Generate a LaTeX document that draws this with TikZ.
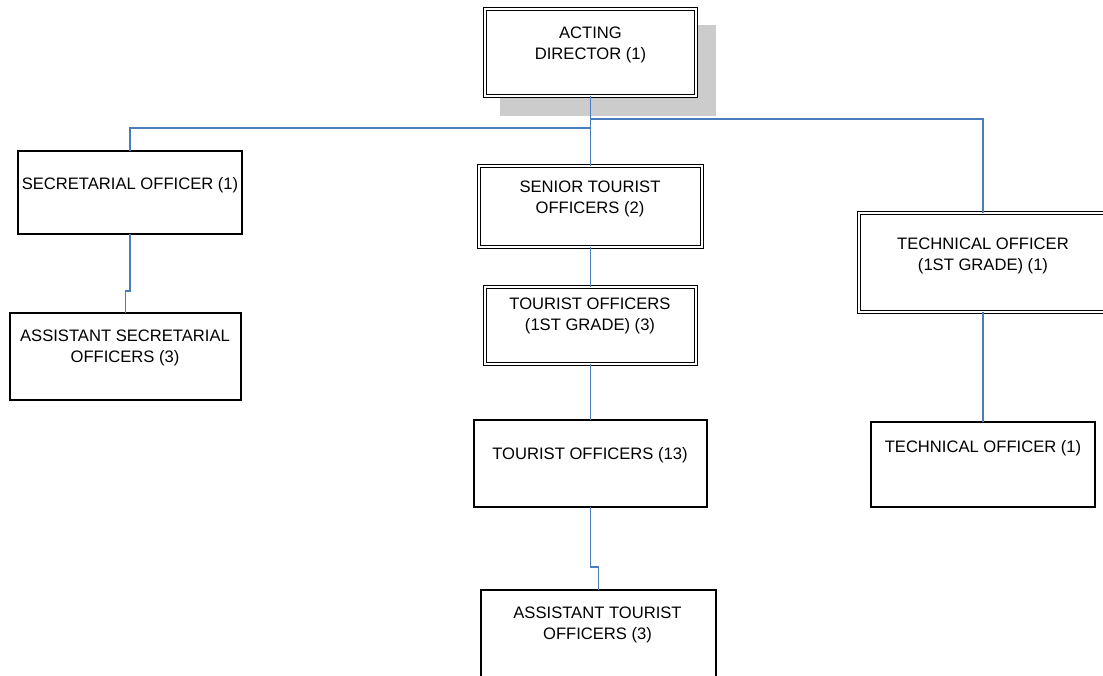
\documentclass[tikz,border=0pt]{standalone}
\usepackage{fontspec}
\setmainfont{Liberation Sans}
\definecolor{linkblue}{RGB}{74,126,187}
\definecolor{shadowgray}{RGB}{204,204,204}
\begin{document}
\begin{tikzpicture}[x=1pt,y=-1pt,
  box/.style={draw=black, line width=1.1pt, fill=white, inner sep=0pt, outer sep=0pt, anchor=north west},
  dbox/.style={draw=black, line width=0.9pt, double=white, double distance=1.7pt, fill=white, inner sep=0pt, outer sep=0pt, anchor=north west},
  conn/.style={draw=linkblue, line width=1.2pt},
  lbl/.style={font=\fontsize{16.6}{20.6}\selectfont, align=center, anchor=north, inner sep=0pt},
  shade/.style={fill=shadowgray, draw=none}]
\useasboundingbox (0,0) rectangle (1103,675);
\clip (0,0) rectangle (1103,675);

% shadow of the top box
\fill[shade] (500,25) rectangle (716,116);

% boxes
\node[dbox, minimum width=211pt, minimum height=87pt] (dir) at (485,9) {};
\node[box, minimum width=224pt, minimum height=83pt] (sec) at (18,151) {};
\node[box, minimum width=231pt, minimum height=87pt] (asec) at (10,313) {};
\node[dbox, minimum width=223pt, minimum height=81pt] (sen) at (479,166) {};
\node[dbox, minimum width=211pt, minimum height=77pt] (to1) at (485,287) {};
\node[box, minimum width=233pt, minimum height=87pt] (to13) at (474,420) {};
\node[box, minimum width=235pt, minimum height=100pt] (ato) at (481,590) {};
\node[dbox, minimum width=248pt, minimum height=99pt] (tech1) at (859,213) {};
\node[box, minimum width=224pt, minimum height=85pt] (tech) at (871,422) {};

% labels
\node[lbl] (tdir) at (590.5,27) {ACTING\\DIRECTOR (1)};
\node[lbl] (tsec) at (130,177) {SECRETARIAL OFFICER (1)};
\node[lbl] (tasec) at (125,330) {ASSISTANT SECRETARIAL\\OFFICERS (3)};
\node[lbl] (tsen) at (590,181) {SENIOR TOURIST\\OFFICERS (2)};
\node[lbl] (tto1) at (590,298) {TOURIST OFFICERS\\(1ST GRADE) (3)};
\node[lbl] (tto13) at (590,447) {TOURIST OFFICERS (13)};
\node[lbl] (tato) at (597.5,607) {ASSISTANT TOURIST\\OFFICERS (3)};
\node[lbl] (ttech1) at (983,238) {TECHNICAL OFFICER\\(1ST GRADE) (1)};
\node[lbl] (ttech) at (983,440) {TECHNICAL OFFICER (1)};

% connectors
\coordinate (lbranch) at (0,128);
\coordinate (rbranch) at (0,119);
\coordinate (secjog) at (0,291);
\coordinate (tojog) at (0,567);
\draw[conn] (dir.south) -- (sen.north);
\draw[conn] (dir.south |- lbranch) -| (sec.north);
\draw[conn] (dir.south |- rbranch) -| (tech1.north);
\draw[conn] (sec.south) -- (sec.south |- secjog) -| (asec.north);
\draw[conn] (sen.south) -- (to1.north);
\draw[conn] (to1.south) -- (to13.north);
\draw[conn] (to13.south) -- (to13.south |- tojog) -| (ato.north);
\draw[conn] (tech1.south) -- (tech.north);
\end{tikzpicture}
\end{document}
